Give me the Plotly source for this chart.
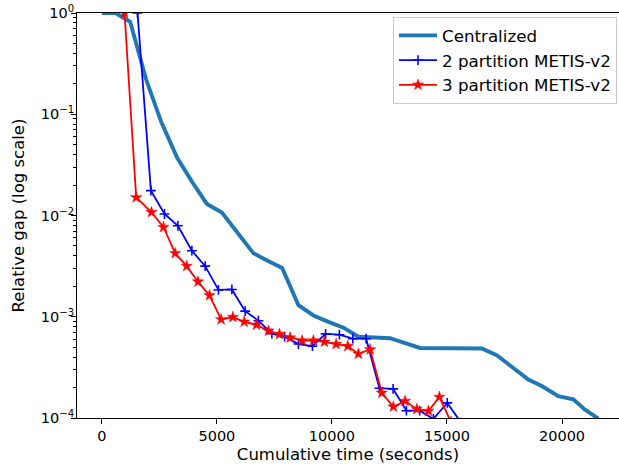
import plotly.graph_objects as go

# ---- data ----
central_t = [0, 600, 1230, 1929, 2580, 3275, 3927, 4566, 5217, 5882, 6590, 7228, 7837,
             8545, 9196, 9848, 10500, 11151, 11833, 12528, 13180, 13831, 15178, 16512,
             17163, 17884, 18536, 19118, 19839, 20491, 20999, 21577]
central_gap = [1.0, 1.0, 0.82, 0.219, 0.0841, 0.0371, 0.0214, 0.0130, 0.01071, 0.00687,
               0.00423, 0.00355, 0.00303, 0.00130, 0.00103, 0.000891, 0.000780, 0.000635,
               0.000628, 0.000614, 0.000548, 0.000492, 0.000489, 0.000486, 0.000417,
               0.000308, 0.000240, 0.000207, 0.000164, 0.000153, 0.000121, 0.0000985]

p2_t = [1551, 2133, 2724, 3306, 3914, 4492, 5069, 5652, 6229, 6807, 7389, 7945, 8545,
        9153, 9726, 10326, 10908, 11486, 12063, 12658, 13236, 13810, 14409, 15013, 15612]
p2_gap = [1.0, 0.01759, 0.01035, 0.00792, 0.00449, 0.00316, 0.00184, 0.00186, 0.001136,
          0.000914, 0.000681, 0.000635, 0.000538, 0.000512, 0.000678, 0.000665, 0.000607,
          0.000607, 0.000197, 0.000194, 0.000118, 0.000118, 0.000098, 0.000141, 0.000090]

p3_t = [986, 1494, 2159, 2680, 3189, 3688, 4179, 4679, 5187, 5695, 6186, 6720, 7241,
        7719, 8184, 8705, 9196, 9674, 10182, 10691, 11151, 11659, 12168, 12671, 13180,
        13688, 14192, 14670, 15178]
p3_gap = [1.0, 0.01507, 0.01076, 0.00766, 0.00423, 0.00316, 0.00222, 0.001625, 0.000940,
          0.000991, 0.000891, 0.000832, 0.000726, 0.000673, 0.000621, 0.000580, 0.000580,
          0.000565, 0.000536, 0.000512, 0.000430, 0.000475, 0.000177, 0.000129, 0.000147,
          0.000122, 0.000117, 0.000161, 0.000091]

x_ticks = [0, 5000, 10000, 15000, 20000]
x_ticktext = ["0", "5000", "10000", "15000", "20000"]
y_tickvals = [1e-4, 1e-3, 1e-2, 1e-1, 1]
y_ticktext = ["10<sup>\u22124</sup>", "10<sup>\u22123</sup>", "10<sup>\u22122</sup>",
              "10<sup>\u22121</sup>", "10<sup>0</sup>"]
y_minor = [m * 10 ** e for e in (-4, -3, -2, -1) for m in range(2, 10)]

FONT = "DejaVu Sans"

fig = go.Figure()
fig.add_trace(go.Scatter(x=central_t, y=central_gap, mode="lines", name="Centralized",
                         line=dict(color="#1f77b4", width=3.9)))
fig.add_trace(go.Scatter(x=p2_t, y=p2_gap, mode="lines+markers", name="2 partition METIS-v2",
                         line=dict(color="#0000ff", width=1.8),
                         marker=dict(symbol="cross-thin", size=7,
                                     line=dict(color="#0000ff", width=1.6))))
fig.add_trace(go.Scatter(x=p3_t, y=p3_gap, mode="lines+markers", name="3 partition METIS-v2",
                         line=dict(color="#ff0000", width=1.8),
                         marker=dict(symbol="star", size=8.5, color="#ff0000",
                                     line=dict(color="#ff0000", width=0.5))))

fig.update_layout(
    width=619, height=464,
    margin=dict(l=77, r=0, t=13.3, b=46.3, autoexpand=False),
    paper_bgcolor="white", plot_bgcolor="white",
    font=dict(family=FONT, size=15, color="black"),
    showlegend=True,
    legend=dict(x=0.9963, y=0.99, xanchor="right", yanchor="top", itemwidth=38,
                bgcolor="rgba(255,255,255,0.9)", bordercolor="#cccccc", borderwidth=1,
                font=dict(family=FONT, size=16.7), tracegroupgap=0),
    xaxis=dict(range=[-1079, 22476], tickvals=x_ticks, ticktext=x_ticktext,
               ticks="outside", ticklen=5, automargin=False,
               tickcolor="black", showline=True, linecolor="black", linewidth=1,
               mirror=True, showgrid=False, zeroline=False,
               tickfont=dict(family=FONT, size=14.5),
               title=dict(text="Cumulative time (seconds)", font=dict(family=FONT, size=16.5),
                          standoff=6)),
    yaxis=dict(type="log", range=[-4, 0], tickvals=y_tickvals, ticktext=y_ticktext,
               ticks="outside", ticklen=5, automargin=False, tickcolor="black", showline=True,
               linecolor="black", linewidth=1, mirror=False, showgrid=False, zeroline=False,
               tickfont=dict(family=FONT, size=14.5), ticklabelstandoff=-6,
               ticklabeloverflow="allow",
               minor=dict(tickvals=y_minor, ticks="outside", ticklen=3, tickcolor="black",
                          showgrid=False),
               title=dict(text="Relative gap (log scale)", font=dict(family=FONT, size=16.5),
                          standoff=11)),
)

# remove the default 8px body margin so the figure fills the window exactly
fig.write_html("out.html", config={"displayModeBar": False},
               post_script="document.body.style.margin='0px';")
